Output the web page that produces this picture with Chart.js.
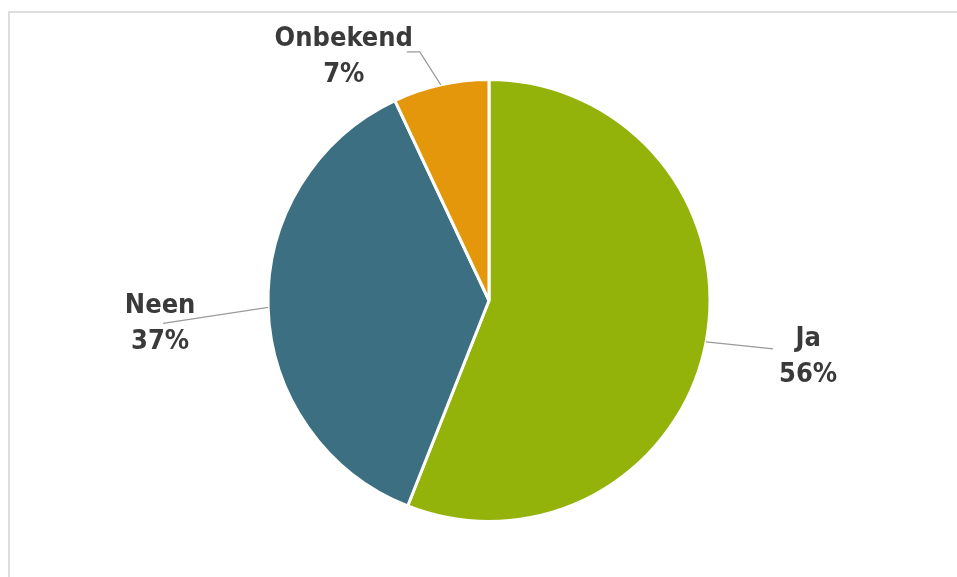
<!DOCTYPE html>
<html lang="nl">
<head>
    <meta charset="UTF-8">
    <title>Ja / Neen / Onbekend</title>
    <style>
        body {
            margin: 0;
            background: #ffffff;
        }
        .frame {
            position: absolute;
            left: 8px;
            top: 11px;
            width: 949px;
            height: 566px;
            border-left: 2px solid #dedede;
            border-top: 2px solid #dedede;
            box-sizing: border-box;
        }
        .wrap {
            position: absolute;
            left: 0;
            top: 0;
            width: 957px;
            height: 577px;
        }
    </style>
    <script src="https://cdn.jsdelivr.net/npm/chart.js"></script>
</head>
<body>
    <div class="frame"></div>
    <div class="wrap">
        <canvas id="taart" width="957" height="577"></canvas>
    </div>

    <script>
        // gegevens
        const categorieen = ['Ja', 'Neen', 'Onbekend'];
        const percentages = [56, 37, 7];
        const kleuren = ['#93b20a', '#3b6f81', '#e4970b'];

        // label plaatsing t.o.v. het punt op de rand (midden van de schijf)
        const labelPos = [
            { tx: 102, ty: 4, lijn: [[67, 7]] },
            { tx: -108, ty: 6, lijn: [[-105, 16]] },
            { tx: -97, ty: -39, lijn: [[-21, -33], [-34, -33]] }
        ];

        const labelPlugin = {
            id: 'labels',
            afterDatasetsDraw(chart) {
                const ctx = chart.ctx;
                const meta = chart.getDatasetMeta(0);
                meta.data.forEach((arc, i) => {
                    const p = arc.getProps(['x', 'y', 'startAngle', 'endAngle', 'outerRadius'], true);
                    const mid = (p.startAngle + p.endAngle) / 2;
                    const ex = p.x + Math.cos(mid) * p.outerRadius;
                    const ey = p.y + Math.sin(mid) * p.outerRadius;
                    const pos = labelPos[i];

                    ctx.save();
                    ctx.strokeStyle = '#9a9a9a';
                    ctx.lineWidth = 1.2;
                    ctx.beginPath();
                    ctx.moveTo(ex, ey);
                    pos.lijn.forEach(pt => ctx.lineTo(ex + pt[0], ey + pt[1]));
                    ctx.stroke();

                    ctx.fillStyle = '#3a3a3a';
                    ctx.font = "bold 27px 'Liberation Sans Narrow', 'DejaVu Sans Condensed', sans-serif";
                    ctx.textAlign = 'center';
                    ctx.textBaseline = 'alphabetic';
                    ctx.fillText(categorieen[i], ex + pos.tx, ey + pos.ty);
                    ctx.fillText(percentages[i] + '%', ex + pos.tx, ey + pos.ty + 36);
                    ctx.restore();
                });
            }
        };

        new Chart(document.getElementById('taart'), {
            type: 'pie',
            data: {
                labels: categorieen,
                datasets: [{
                    data: percentages,
                    backgroundColor: kleuren,
                    borderColor: '#ffffff',
                    borderWidth: 3
                }]
            },
            options: {
                responsive: false,
                animation: false,
                layout: {
                    padding: { top: 78, bottom: 54, left: 21, right: 0 }
                },
                plugins: {
                    legend: { display: false },
                    tooltip: { enabled: false }
                }
            },
            plugins: [labelPlugin]
        });
    </script>
</body>
</html>
